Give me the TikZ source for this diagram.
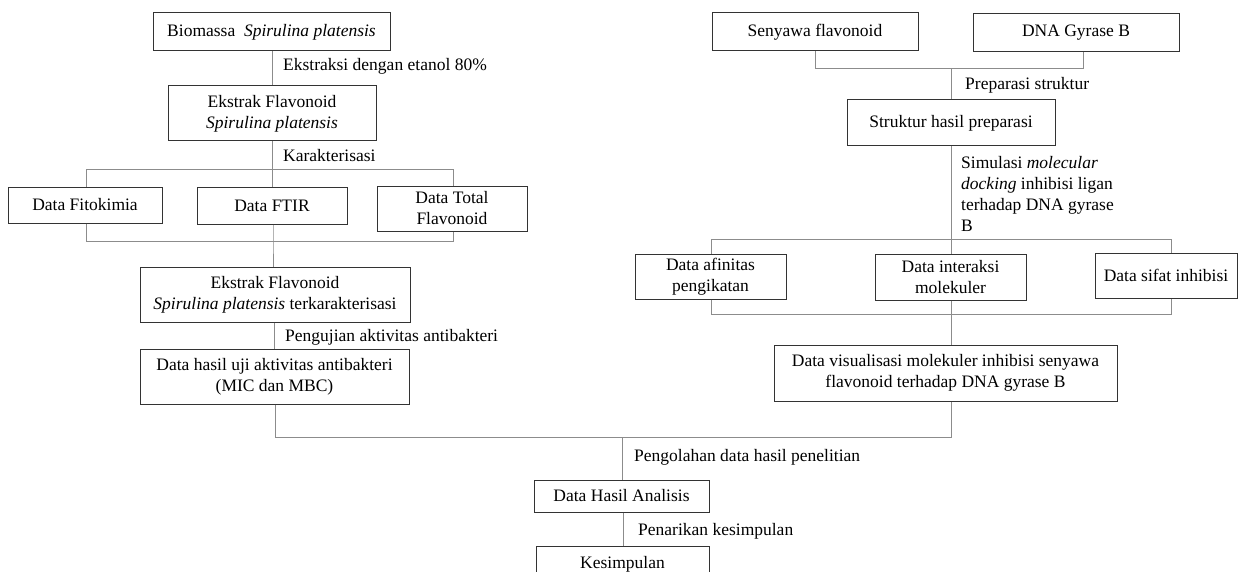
\documentclass[tikz,border=0pt]{standalone}
\usepackage{fontspec}
\setmainfont{Liberation Serif}
\begin{document}
\begin{tikzpicture}[x=1pt,y=-1pt,
  box/.style={draw=black!80, line width=1pt, fill=white, inner sep=0pt, align=center,
    font=\fontsize{17.5}{21}\selectfont},
  lbl/.style={inner sep=0pt, anchor=west, align=left, font=\fontsize{17.5}{21}\selectfont},
  conn/.style={draw=black!45, line width=1pt}]
\useasboundingbox (0,0) rectangle (1238,572);
\begin{scope}
\clip (0,0) rectangle (1238,572);
% left column
\node[box, minimum width=237pt, minimum height=38pt] (bio) at (271.5,32) {Biomassa\ \ \textit{Spirulina platensis}};
\node[box, minimum width=208pt, minimum height=55pt] (ext) at (272,113.5) {Ekstrak Flavonoid\\\textit{Spirulina platensis}};
\node[box, minimum width=154pt, minimum height=36pt] (fito) at (85,205) {Data Fitokimia};
\node[box, minimum width=150pt, minimum height=37pt] (ftir) at (272,205.5) {Data FTIR};
\node[box, minimum width=150pt, minimum height=45pt] (total) at (452,208.5) {Data Total\\Flavonoid};
\node[box, minimum width=270pt, minimum height=55pt] (extk) at (275,294.5) {Ekstrak Flavonoid\\\textit{Spirulina platensis} terkarakterisasi};
\node[box, minimum width=269pt, minimum height=55pt] (uji) at (274.5,376.5) {Data hasil uji aktivitas antibakteri\\(MIC dan MBC)};
% right column
\node[box, minimum width=206pt, minimum height=38pt] (seny) at (815,32) {Senyawa flavonoid};
\node[box, minimum width=206pt, minimum height=38pt] (dna) at (1076,33) {DNA Gyrase B};
\node[box, minimum width=208pt, minimum height=46pt] (strk) at (951,123) {Struktur hasil preparasi};
\node[box, minimum width=151pt, minimum height=45pt] (afin) at (710.5,276.5) {Data afinitas\\pengikatan};
\node[box, minimum width=151pt, minimum height=46pt] (inter) at (950.5,277) {Data interaksi\\molekuler};
\node[box, minimum width=142pt, minimum height=45pt] (sifat) at (1166,275.5) {Data sifat inhibisi};
\node[box, minimum width=343pt, minimum height=56pt] (vis) at (945.5,373) {Data visualisasi molekuler inhibisi senyawa\\flavonoid terhadap DNA gyrase B};
% bottom
\node[box, minimum width=175pt, minimum height=32pt] (has) at (621.5,496) {Data Hasil Analisis};
\node[box, minimum width=173pt, minimum height=36pt] (kes) at (622.5,564) {Kesimpulan};

% junction coordinates
\coordinate (j1) at (272,170);
\coordinate (j2) at (273,241);
\coordinate (j3) at (951,69);
\coordinate (j4) at (951,239);
\coordinate (j5) at (951,314);
\coordinate (j6) at (622,437);

% connectors left
\draw[conn] (bio.south -| 272,0) -- (ext.north -| 272,0);
\draw[conn] (ext.south -| 272,0) -- (j1);
\draw[conn] (fito.north -| 86,0) -- (86,170) -- (453,170) -- (total.north -| 453,0);
\draw[conn] (j1) -- (ftir.north -| 272,0);
\draw[conn] (fito.south -| 86,0) -- (86,241) -- (453,241) -- (total.south -| 453,0);
\draw[conn] (ftir.south -| 273,0) -- (j2) -- (extk.north -| 273,0);
\draw[conn] (extk.south -| 274,0) -- (uji.north -| 274,0);
% connectors right
\draw[conn] (seny.south -| 815,0) -- (815,69) -- (1083,69) -- (dna.south -| 1083,0);
\draw[conn] (j3) -- (strk.north -| 951,0);
\draw[conn] (strk.south -| 951,0) -- (j4);
\draw[conn] (afin.north -| 711,0) -- (711,239) -- (1171,239) -- (sifat.north -| 1171,0);
\draw[conn] (j4) -- (inter.north -| 951,0);
\draw[conn] (afin.south -| 711,0) -- (711,314) -- (1171,314) -- (sifat.south -| 1171,0);
\draw[conn] (inter.south -| 951,0) -- (j5) -- (vis.north -| 951,0);
% bottom connectors
\draw[conn] (uji.south -| 275,0) -- (275,437) -- (951,437) -- (vis.south -| 951,0);
\draw[conn] (j6) -- (has.north -| 622,0);
\draw[conn] (has.south -| 623,0) -- (kes.north -| 623,0);

% labels
\node[lbl] (l1) at (283,66) {Ekstraksi dengan etanol 80\%};
\node[lbl] (l2) at (283,156) {Karakterisasi};
\node[lbl] (l3) at (285,337) {Pengujian aktivitas antibakteri};
\node[lbl] (l4) at (965,85) {Preparasi struktur};
\node[lbl, anchor=north west] (l5) at (961,156) {Simulasi \textit{molecular}\\\textit{docking} inhibisi ligan\\terhadap DNA gyrase\\B};
\node[lbl] (l6) at (634,457) {Pengolahan data hasil penelitian};
\node[lbl] (l7) at (638,531) {Penarikan kesimpulan};
\end{scope}
\end{tikzpicture}
\end{document}
